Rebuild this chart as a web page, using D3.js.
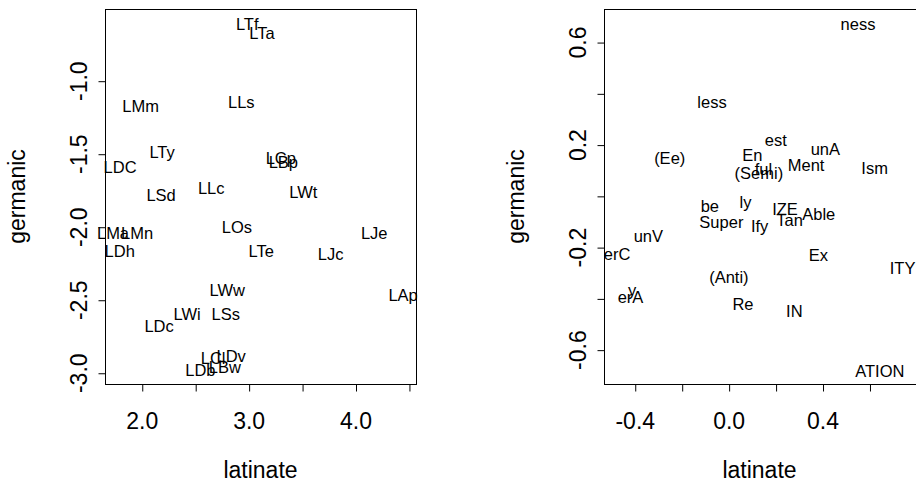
<!DOCTYPE html>
<html>
<head>
<meta charset="utf-8">
<script src="https://cdn.jsdelivr.net/npm/d3@7"></script>
<style>
  body { margin: 0; background: #fff; }
  svg { display: block; }
  text { font-family: "Liberation Sans", Arial, sans-serif; fill: #000; }
</style>
</head>
<body>
<div id="chart"></div>
<script>
// left panel: prefix words
const leftLabels = ["LTf", "LTa", "LMm", "LLs", "LTy", "LDC", "LCp", "LBp", "LSd", "LLc", "LWt",
    "LMa", "LMn", "LOs", "LJe", "LDh", "LTe", "LJc", "LWw", "LAp", "LWi", "LSs", "LDc",
    "LCl", "LDv", "LDb", "LBw"];
const leftLatinate = [2.987, 3.125, 1.989, 2.931, 2.190, 1.797, 3.301, 3.325, 2.181, 2.650, 3.512,
    1.731, 1.956, 2.891, 4.175, 1.794, 3.117, 3.768, 2.800, 4.445, 2.425, 2.786, 2.162,
    2.668, 2.837, 2.549, 2.778];
const leftGermanic = [-0.613, -0.670, -1.175, -1.144, -1.497, -1.589, -1.538, -1.566, -1.786, -1.732, -1.762,
    -2.043, -2.043, -2.005, -2.045, -2.168, -2.163, -2.187, -2.432, -2.479, -2.597, -2.599, -2.679,
    -2.896, -2.886, -2.984, -2.959];
const leftXTicks = [2.0, 2.5, 3.0, 3.5, 4.0, 4.5];
const leftXTickLabels = ["2.0", "", "3.0", "", "4.0", ""];
const leftYTicks = [-1.0, -1.5, -2.0, -2.5, -3.0];
const leftYTickLabels = ["-1.0", "-1.5", "-2.0", "-2.5", "-3.0"];

// right panel: affixes
const rightLabels = ["ness", "less", "est", "(Ee)", "En", "unA", "Ment", "ful", "(Semi)", "Ism",
    "ly", "be", "IZE", "Able", "Tan", "Super", "Ify", "unV", "erC", "Ex", "ITY", "(Anti)",
    "y", "erA", "Re", "IN", "ATION"];
const rightLatinate = [0.551, -0.071, 0.201, -0.251, 0.101, 0.412, 0.330, 0.148, 0.129, 0.622,
    0.072, -0.080, 0.240, 0.384, 0.260, -0.031, 0.132, -0.342, -0.475, 0.382, 0.741, 0.001,
    -0.411, -0.418, 0.061, 0.280, 0.644];
const rightGermanic = [0.665, 0.366, 0.215, 0.143, 0.161, 0.184, 0.121, 0.105, 0.085, 0.108,
    -0.029, -0.040, -0.050, -0.071, -0.093, -0.108, -0.125, -0.155, -0.226, -0.231, -0.282, -0.322,
    -0.379, -0.395, -0.422, -0.449, -0.683];
const rightXTicks = [-0.4, -0.2, 0.0, 0.2, 0.4, 0.6];
const rightXTickLabels = ["-0.4", "", "0.0", "", "0.4", ""];
const rightYTicks = [0.6, 0.4, 0.2, 0.0, -0.2, -0.4, -0.6];
const rightYTickLabels = ["0.6", "", "0.2", "", "-0.2", "", "-0.6"];

const width = 916;
const height = 482;
const fontFamily = '"Liberation Sans", Arial, sans-serif';
const labelSize = 16.5;
const axisSize = 23;

const svg = d3.select("#chart")
    .append("svg")
    .attr("width", width)
    .attr("height", height);

// R centres text on its ink box, so measure the ink
const ctx = document.createElement("canvas").getContext("2d");
ctx.font = `${labelSize}px ${fontFamily}`;
function baselineShift(s) {
    const m = ctx.measureText(s);
    return (m.actualBoundingBoxAscent - m.actualBoundingBoxDescent) / 2;
}

function drawPanel(box, xlim, ylim, labels, xs, ys, xTicks, xTickLabels, yTicks, yTickLabels) {
    const x = d3.scaleLinear().domain(xlim).range([box.left, box.right]);
    const y = d3.scaleLinear().domain(ylim).range([box.bottom, box.top]);

    const g = svg.append("g");

    g.append("g")
        .selectAll("text")
        .data(labels)
        .join("text")
        .attr("x", (d, i) => x(xs[i]))
        .attr("y", (d, i) => y(ys[i]) + baselineShift(d))
        .attr("text-anchor", "middle")
        .style("font-size", labelSize + "px")
        .text(d => d);

    g.append("rect")
        .attr("x", box.left + 0.5)
        .attr("y", box.top + 0.5)
        .attr("width", box.right - box.left)
        .attr("height", box.bottom - box.top)
        .attr("fill", "none")
        .attr("stroke", "#000");

    // bottom axis
    const xAxis = g.append("g")
        .attr("transform", `translate(0, ${box.bottom + 0.5})`)
        .call(d3.axisBottom(x).tickValues(xTicks).tickSize(7).tickPadding(21)
            .tickFormat((d, i) => xTickLabels[i]));
    xAxis.select(".domain")
        .attr("d", `M${x(xTicks[0]) + 0.5},0H${x(xTicks[xTicks.length - 1]) + 0.5}`);
    xAxis.selectAll(".tick line").attr("transform", "translate(0.5,0)");
    xAxis.selectAll("text")
        .style("font-size", axisSize + "px")
        .attr("font-family", null);

    // left axis, labels turned as in R
    const yAxis = g.append("g")
        .attr("transform", `translate(${box.left + 0.5}, 0)`)
        .call(d3.axisLeft(y).tickValues(yTicks).tickSize(7)
            .tickFormat((d, i) => yTickLabels[i]));
    yAxis.select(".domain")
        .attr("d", `M0,${y(yTicks[0]) + 0.5}V${y(yTicks[yTicks.length - 1]) + 0.5}`);
    yAxis.selectAll(".tick line").attr("transform", "translate(0,0.5)");
    yAxis.selectAll("text")
        .attr("x", null)
        .attr("dy", null)
        .attr("transform", "translate(-27,0) rotate(-90)")
        .attr("text-anchor", "middle")
        .attr("dominant-baseline", "central")
        .attr("font-family", null)
        .style("font-size", axisSize + "px");

    g.selectAll(".domain, .tick line").attr("stroke", "#000");

    g.append("text")
        .attr("x", box.left + 155.5)
        .attr("y", 478)
        .attr("text-anchor", "middle")
        .style("font-size", axisSize + "px")
        .text("latinate");

    g.append("text")
        .attr("transform", `translate(${box.left - 80}, ${(box.top + box.bottom) / 2}) rotate(-90)`)
        .attr("text-anchor", "middle")
        .style("font-size", axisSize + "px")
        .text("germanic");
}

drawPanel({left: 105, right: 416, top: 9, bottom: 384},
    [1.656, 4.566], [-3.077, -0.509],
    leftLabels, leftLatinate, leftGermanic,
    leftXTicks, leftXTickLabels, leftYTicks, leftYTickLabels);

// the right frame runs past the edge of the picture
drawPanel({left: 604, right: 917, top: 9, bottom: 384},
    [-0.531, 0.8025], [-0.734, 0.729],
    rightLabels, rightLatinate, rightGermanic,
    rightXTicks, rightXTickLabels, rightYTicks, rightYTickLabels);
</script>
</body>
</html>
